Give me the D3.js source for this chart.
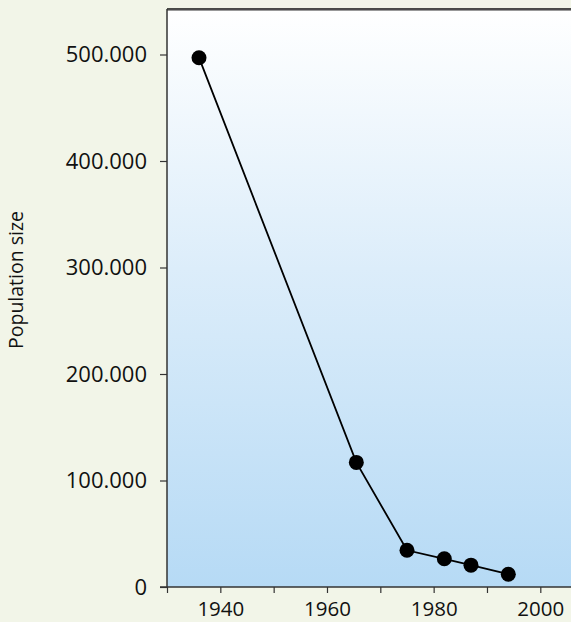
<!DOCTYPE html>
<html><head><meta charset="utf-8">
<script src="https://cdn.jsdelivr.net/npm/d3@7"></script>
<style>
html,body{margin:0;padding:0;background:#f2f5e8;}
svg{display:block;}
text{font-family:"Open Sans","DejaVu Sans",sans-serif;fill:#111;}
</style></head>
<body>
<svg id="c" width="571" height="622"></svg>
<script>
const years = [1936, 1965.5, 1975, 1982, 1987, 1994];
const population = [497000, 117000, 34500, 26500, 20500, 12000];
const xTickValues = [1930, 1940, 1950, 1960, 1970, 1980, 1990, 2000, 2010];
const xTickLabels = [1940, 1960, 1980, 2000];
const yTickValues = [0, 100000, 200000, 300000, 400000, 500000];
const yTitle = "Population size";

(function(){
const svg = d3.select("#c");
const pLeft = 167, pBottom = 587, pTop = 9;
const x = d3.scaleLinear().domain([1930, 2010]).range([pLeft, pLeft + 80 * 5.333]);
const y = d3.scaleLinear().domain([0, 500000]).range([pBottom, 54.5]);

const defs = svg.append("defs");
const g = defs.append("linearGradient").attr("id","bg").attr("x1",0).attr("y1",0).attr("x2",0).attr("y2",1);
g.append("stop").attr("offset","0%").attr("stop-color","#ffffff");
g.append("stop").attr("offset","45%").attr("stop-color","#dcedfa");
g.append("stop").attr("offset","100%").attr("stop-color","#b6daf5");

svg.append("rect").attr("x", pLeft).attr("y", pTop).attr("width", 571 - pLeft).attr("height", pBottom - pTop).attr("fill","url(#bg)");
svg.append("line").attr("x1", pLeft).attr("x2", 571).attr("y1", pTop + 1.5).attr("y2", pTop + 1.5).attr("stroke","#999").attr("stroke-width",1);
svg.append("line").attr("x1", pLeft).attr("x2", 571).attr("y1", pTop).attr("y2", pTop).attr("stroke","#111").attr("stroke-width",1.5);

const fmt = d => d === 0 ? "0" : d3.format(",")(d).replace(/,/g, ".");

const yAxis = svg.append("g").attr("transform", `translate(${pLeft},0)`)
  .call(d3.axisLeft(y).tickValues(yTickValues).tickFormat(fmt).tickSize(7).tickPadding(13));
yAxis.select(".domain").attr("d", `M0,${pTop}V${pBottom}`).attr("stroke","#333").attr("stroke-width",1.5);
yAxis.selectAll(".tick line").attr("stroke","#333").attr("stroke-width",1.2);
yAxis.selectAll(".tick text").attr("font-size",22).attr("fill","#1a1a1a").attr("font-family","'Open Sans',sans-serif");

const xAxis = svg.append("g").attr("transform", `translate(0,${pBottom})`)
  .call(d3.axisBottom(x).tickValues(xTickValues).tickFormat(d => xTickLabels.includes(d) ? d : "").tickSize(6).tickPadding(8));
xAxis.select(".domain").attr("d", `M${pLeft - 7},0H${x(2010)}`).attr("stroke","#333").attr("stroke-width",1.5);
xAxis.selectAll(".tick line").attr("stroke","#333").attr("stroke-width",1.2);
xAxis.selectAll(".tick text").attr("font-size",20.5).attr("fill","#1a1a1a").attr("font-family","'Open Sans',sans-serif");

svg.append("text").attr("transform", `translate(23,280) rotate(-90)`).attr("text-anchor","middle")
  .attr("font-size",19.5).attr("fill","#1a1a1a").text(yTitle);

const pts = years.map((yr, i) => [yr, population[i]]);
svg.append("path").datum(pts)
  .attr("d", d3.line().x(d => x(d[0])).y(d => y(d[1])))
  .attr("fill","none").attr("stroke","#000").attr("stroke-width",1.8);
svg.selectAll("circle.pt").data(pts).join("circle").attr("class","pt")
  .attr("cx", d => x(d[0])).attr("cy", d => y(d[1])).attr("r", 7.5).attr("fill","#000");
})();
</script>
</body></html>
